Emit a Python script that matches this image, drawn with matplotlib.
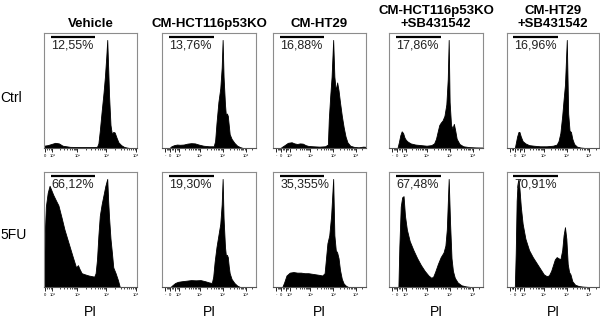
import numpy as np
import matplotlib
matplotlib.use("Agg")
from matplotlib import pyplot as plt

plt.rcParams['font.family'] = ['Liberation Sans', 'DejaVu Sans']

# column titles, row labels, gate percentages
columns = ["Vehicle", "CM-HCT116p53KO", "CM-HT29",
           "CM-HCT116p53KO\n+SB431542", "CM-HT29\n+SB431542"]
rows = ["Ctrl", "5FU"]
pct_ctrl = ["12,55%", "13,76%", "16,88%", "17,86%", "16,96%"]
pct_5fu = ["66,12%", "19,30%", "35,355%", "67,48%", "70,91%"]

# histogram outlines (x: fraction of axis, y: fraction of panel height)
veh_ctrl_x = [0.0, 0.04, 0.08, 0.12, 0.16, 0.20, 0.28, 0.40, 0.50, 0.57, 0.585, 0.60, 0.62, 0.64, 0.655, 0.67, 0.68, 0.69, 0.70, 0.715, 0.73, 0.745, 0.76, 0.78, 0.80, 0.83, 0.86, 0.89, 0.92]
veh_ctrl_y = [0.02, 0.025, 0.035, 0.045, 0.04, 0.02, 0.01, 0.008, 0.008, 0.01, 0.04, 0.15, 0.32, 0.48, 0.62, 0.8, 0.94, 0.7, 0.45, 0.2, 0.12, 0.14, 0.135, 0.09, 0.05, 0.025, 0.01, 0.004, 0.0]
veh_5fu_x = [0.0, 0.008, 0.02, 0.04, 0.06, 0.08, 0.10, 0.13, 0.155, 0.19, 0.22, 0.25, 0.28, 0.31, 0.345, 0.365, 0.38, 0.405, 0.44, 0.48, 0.51, 0.54, 0.555, 0.57, 0.585, 0.60, 0.62, 0.64, 0.66, 0.68, 0.69, 0.70, 0.715, 0.73, 0.745, 0.77, 0.795, 0.815]
veh_5fu_y = [0.0, 0.45, 0.7, 0.82, 0.88, 0.84, 0.8, 0.75, 0.71, 0.6, 0.5, 0.42, 0.34, 0.26, 0.17, 0.19, 0.16, 0.12, 0.11, 0.1, 0.095, 0.09, 0.12, 0.24, 0.45, 0.62, 0.72, 0.8, 0.88, 0.94, 0.75, 0.6, 0.42, 0.3, 0.17, 0.12, 0.06, 0.0]
hct_ctrl_x = [0.08, 0.10, 0.13, 0.16, 0.19, 0.23, 0.27, 0.31, 0.35, 0.39, 0.44, 0.50, 0.55, 0.565, 0.58, 0.60, 0.62, 0.635, 0.645, 0.655, 0.67, 0.68, 0.69, 0.70, 0.71, 0.72, 0.74, 0.77, 0.80, 0.83, 0.86]
hct_ctrl_y = [0.0, 0.015, 0.025, 0.03, 0.028, 0.03, 0.038, 0.042, 0.04, 0.03, 0.02, 0.015, 0.015, 0.06, 0.22, 0.4, 0.52, 0.7, 0.94, 0.62, 0.38, 0.28, 0.3, 0.28, 0.2, 0.12, 0.08, 0.045, 0.02, 0.008, 0.0]
hct_5fu_x = [0.09, 0.11, 0.14, 0.17, 0.21, 0.26, 0.31, 0.36, 0.41, 0.46, 0.50, 0.53, 0.545, 0.56, 0.58, 0.60, 0.62, 0.635, 0.645, 0.655, 0.67, 0.68, 0.69, 0.70, 0.71, 0.72, 0.74, 0.77, 0.80, 0.83]
hct_5fu_y = [0.0, 0.015, 0.035, 0.045, 0.05, 0.055, 0.06, 0.058, 0.06, 0.05, 0.04, 0.035, 0.09, 0.22, 0.35, 0.45, 0.55, 0.72, 0.94, 0.6, 0.35, 0.27, 0.28, 0.26, 0.18, 0.12, 0.07, 0.035, 0.012, 0.0]
ht29_ctrl_x = [0.08, 0.10, 0.125, 0.16, 0.20, 0.23, 0.26, 0.29, 0.32, 0.35, 0.38, 0.43, 0.50, 0.56, 0.59, 0.60, 0.615, 0.63, 0.647, 0.66, 0.675, 0.69, 0.705, 0.72, 0.74, 0.76, 0.78, 0.80, 0.83, 0.87, 0.92, 0.97, 1.0]
ht29_ctrl_y = [0.0, 0.012, 0.025, 0.045, 0.05, 0.04, 0.035, 0.04, 0.038, 0.025, 0.018, 0.015, 0.012, 0.015, 0.03, 0.25, 0.45, 0.62, 0.94, 0.62, 0.5, 0.57, 0.5, 0.4, 0.28, 0.18, 0.1, 0.05, 0.02, 0.01, 0.006, 0.012, 0.01]
ht29_5fu_x = [0.10, 0.12, 0.145, 0.18, 0.22, 0.26, 0.30, 0.34, 0.38, 0.42, 0.46, 0.50, 0.53, 0.555, 0.57, 0.585, 0.605, 0.625, 0.647, 0.66, 0.675, 0.69, 0.705, 0.72, 0.74, 0.76, 0.785, 0.81]
ht29_5fu_y = [0.0, 0.04, 0.1, 0.125, 0.13, 0.125, 0.125, 0.12, 0.12, 0.115, 0.11, 0.105, 0.1, 0.12, 0.25, 0.38, 0.45, 0.62, 0.94, 0.45, 0.32, 0.3, 0.25, 0.15, 0.07, 0.03, 0.01, 0.0]
hctsb_ctrl_x = [0.09, 0.105, 0.12, 0.135, 0.15, 0.165, 0.18, 0.20, 0.23, 0.28, 0.34, 0.40, 0.45, 0.48, 0.50, 0.52, 0.535, 0.55, 0.57, 0.59, 0.61, 0.625, 0.635, 0.645, 0.66, 0.675, 0.69, 0.705, 0.72, 0.75, 0.79, 0.85, 0.92, 1.0]
hctsb_ctrl_y = [0.0, 0.05, 0.11, 0.145, 0.13, 0.09, 0.07, 0.055, 0.04, 0.03, 0.025, 0.02, 0.025, 0.04, 0.08, 0.15, 0.2, 0.22, 0.24, 0.28, 0.38, 0.6, 0.94, 0.4, 0.2, 0.17, 0.21, 0.15, 0.08, 0.035, 0.015, 0.008, 0.005, 0.004]
hctsb_5fu_x = [0.10, 0.11, 0.125, 0.14, 0.155, 0.17, 0.19, 0.22, 0.26, 0.30, 0.34, 0.38, 0.42, 0.45, 0.47, 0.49, 0.52, 0.55, 0.58, 0.60, 0.615, 0.635, 0.65, 0.665, 0.68, 0.70, 0.73, 0.77, 0.82, 0.87]
hctsb_5fu_y = [0.0, 0.35, 0.7, 0.78, 0.79, 0.62, 0.5, 0.4, 0.32, 0.25, 0.19, 0.14, 0.1, 0.08, 0.09, 0.13, 0.2, 0.26, 0.3, 0.36, 0.5, 0.94, 0.55, 0.25, 0.14, 0.08, 0.04, 0.015, 0.005, 0.0]
ht29sb_ctrl_x = [0.085, 0.095, 0.11, 0.125, 0.135, 0.15, 0.17, 0.20, 0.24, 0.29, 0.36, 0.43, 0.50, 0.54, 0.56, 0.58, 0.60, 0.615, 0.63, 0.65, 0.665, 0.68, 0.695, 0.71, 0.73, 0.76, 0.80, 0.85]
ht29sb_ctrl_y = [0.0, 0.04, 0.1, 0.14, 0.14, 0.1, 0.06, 0.04, 0.025, 0.02, 0.015, 0.015, 0.02, 0.03, 0.06, 0.13, 0.28, 0.42, 0.55, 0.94, 0.3, 0.15, 0.14, 0.08, 0.035, 0.012, 0.004, 0.0]
ht29sb_5fu_x = [0.085, 0.095, 0.105, 0.115, 0.125, 0.135, 0.15, 0.17, 0.20, 0.24, 0.28, 0.32, 0.36, 0.40, 0.43, 0.455, 0.48, 0.50, 0.52, 0.54, 0.56, 0.58, 0.60, 0.615, 0.63, 0.645, 0.66, 0.675, 0.69, 0.71, 0.74, 0.78, 0.83, 0.89]
ht29sb_5fu_y = [0.0, 0.3, 0.75, 0.9, 0.94, 0.86, 0.7, 0.55, 0.42, 0.32, 0.26, 0.21, 0.16, 0.11, 0.095, 0.1, 0.14, 0.19, 0.24, 0.26, 0.25, 0.24, 0.32, 0.45, 0.52, 0.42, 0.2, 0.13, 0.11, 0.05, 0.02, 0.008, 0.003, 0.0]

hists = [[(veh_ctrl_x, veh_ctrl_y), (hct_ctrl_x, hct_ctrl_y), (ht29_ctrl_x, ht29_ctrl_y),
          (hctsb_ctrl_x, hctsb_ctrl_y), (ht29sb_ctrl_x, ht29sb_ctrl_y)],
         [(veh_5fu_x, veh_5fu_y), (hct_5fu_x, hct_5fu_y), (ht29_5fu_x, ht29_5fu_y),
          (hctsb_5fu_x, hctsb_5fu_y), (ht29sb_5fu_x, ht29sb_5fu_y)]]
pcts = [pct_ctrl, pct_5fu]

# gate bar extent (fraction of axis)
gate_start, gate_end = 0.07, 0.55

W, H = 600, 327
fig = plt.figure(figsize=(6, 3.27), dpi=100)

col_left = [44, 162, 273, 389, 507]
col_w = [93, 94, 93, 94, 92]
row_top = [33, 172]
row_h = 115


def decade_ticks(decades):
    minor = []
    for a, b in zip(decades[:-1], decades[1:]):
        for k in range(2, 10):
            minor.append(a + (b - a) * np.log10(k))
    return minor


for r in range(2):
    for c in range(5):
        ax = fig.add_axes([col_left[c] / W, 1 - (row_top[r] + row_h) / H,
                           col_w[c] / W, row_h / H])
        x, y = hists[r][c]
        ax.fill_between(x, y, 0, color='black', lw=0.6)
        ax.set_xlim(0, 1)
        ax.set_ylim(0, 1)
        ax.set_yticks([])
        for s in ax.spines.values():
            s.set_color('#8c8c8c')
            s.set_linewidth(0.8)
        ax.spines['bottom'].set_color('#555555')

        if c == 0:
            decades = [0.09, 0.36, 0.67, 0.99]
            major = [0.01] + decades
            labels = ['0', '10¹', '10²', '10³', '10⁴']
            minor = [0.03, 0.05, 0.07] + decade_ticks(decades)
        else:
            decades = [0.18, 0.40, 0.65, 0.89]
            major = [0.036, 0.09, 0.137] + decades
            labels = ['-', '0', '', '10¹', '10²', '10³', '10⁴']
            minor = [0.05, 0.06, 0.07, 0.11, 0.12, 0.155, 0.165] + decade_ticks(decades) + \
                    [0.89 + 0.24 * np.log10(k) for k in range(2, 5)]
        ax.set_xticks(major)
        ax.set_xticklabels(labels)
        ax.set_xticks([m for m in minor if m < 1], minor=True)
        ax.tick_params(axis='x', which='major', direction='out', length=3,
                       width=0.6, color='black', labelsize=3, pad=1)
        ax.tick_params(axis='x', which='minor', direction='out', length=1.5,
                       width=0.5, color='black')

        # gate bar and percentage
        ax.plot([gate_start, gate_end], [0.965, 0.965], color='black', lw=1.6,
                solid_capstyle='butt')
        ax.text(gate_start + 0.01, 0.89, pcts[r][c], fontsize=9, ha='left',
                va='center', color='#222222')

        if r == 0:
            ax.set_title(columns[c], fontsize=9.5, fontweight='bold', pad=4,
                         linespacing=1.15)
        else:
            ax.text(0.5, -0.22, "PI", transform=ax.transAxes, ha='center',
                    va='center', fontsize=10)

fig.text(0.0, 1 - 98 / H, rows[0], ha='left', va='center', fontsize=10)
fig.text(0.0, 1 - 235 / H, rows[1], ha='left', va='center', fontsize=10)

fig.savefig("out.png", dpi=100)
